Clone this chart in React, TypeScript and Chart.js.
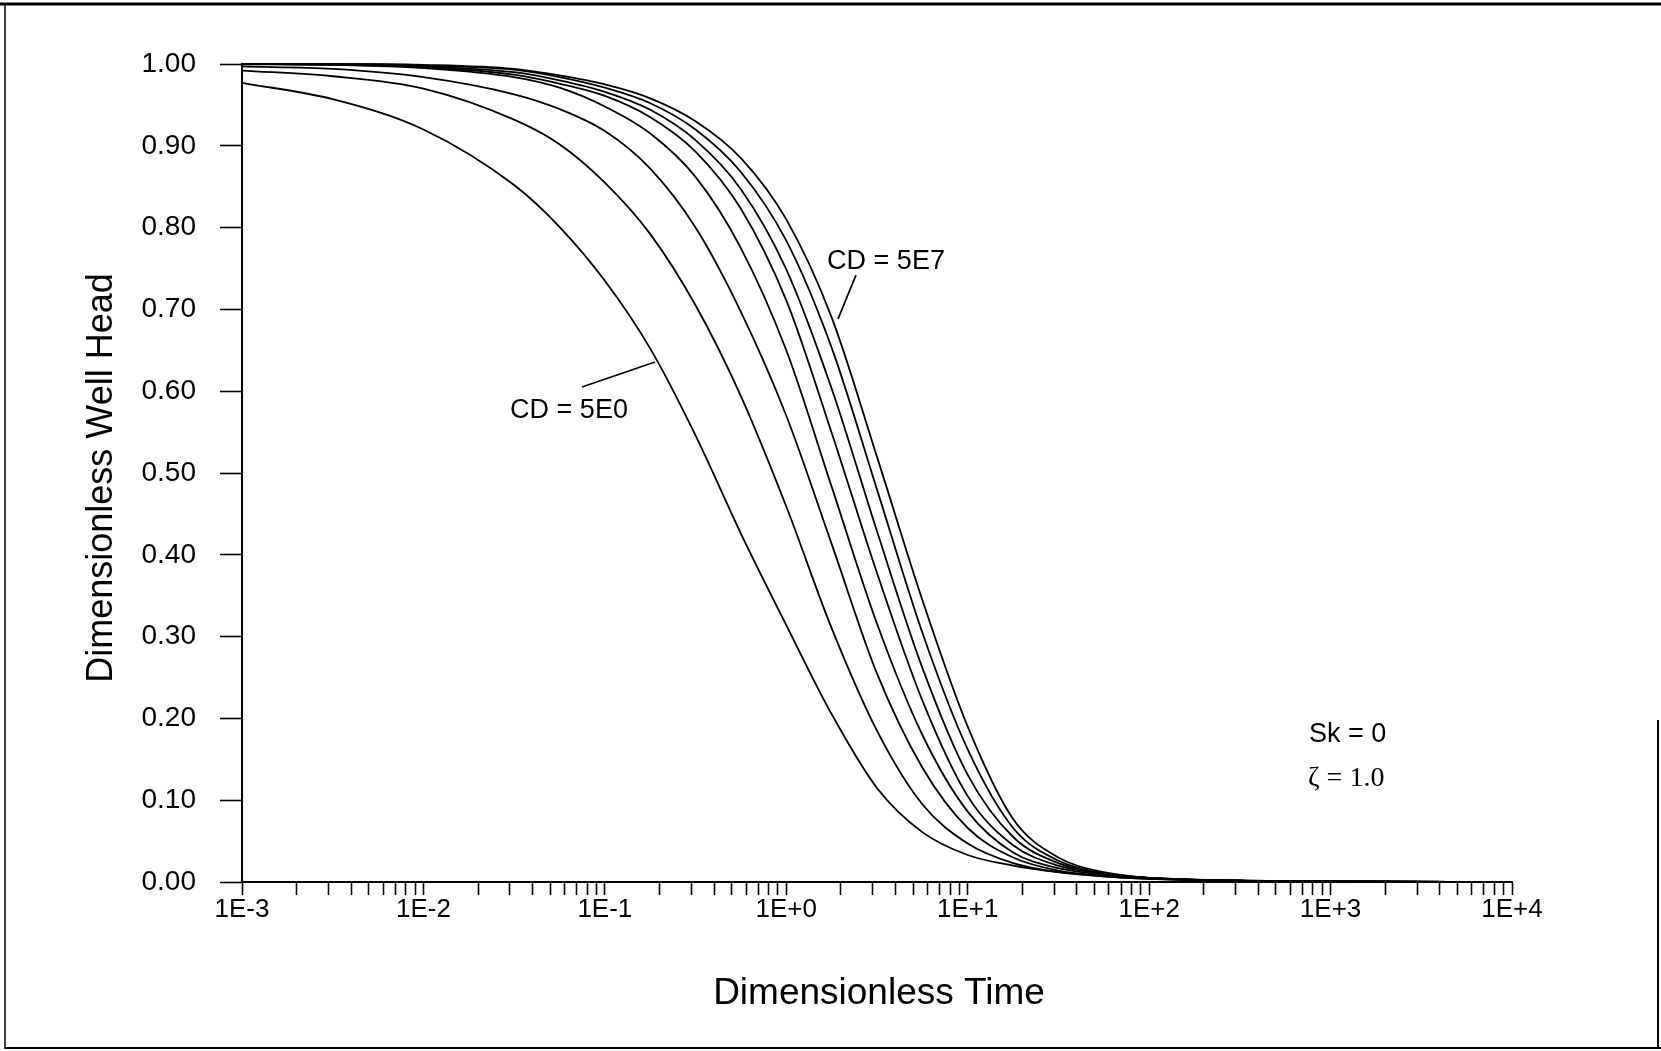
import React, { useEffect, useRef } from 'react';
import { Chart, registerables } from 'chart.js';

Chart.register(...registerables);

// ---- data ----
const timeValues = [0.001, 0.00316, 0.01, 0.0316, 0.0562, 0.1, 0.178, 0.316, 0.562, 1, 1.78, 3.16, 5.62, 10, 17.8, 31.6, 56.2, 100, 316, 1000, 10000];

const cd5e0 = [0.977, 0.957, 0.920, 0.852, 0.801, 0.735, 0.652, 0.546, 0.426, 0.314, 0.205, 0.115, 0.061, 0.033, 0.020, 0.012, 0.007, 0.004, 0.0015, 0.0006, 0.0001];
const cd5e1 = [0.992, 0.985, 0.970, 0.932, 0.902, 0.855, 0.792, 0.705, 0.594, 0.459, 0.310, 0.185, 0.095, 0.047, 0.023, 0.012, 0.007, 0.004, 0.0015, 0.0006, 0.0001];
const cd5e2 = [0.997, 0.994, 0.984, 0.963, 0.945, 0.918, 0.872, 0.800, 0.697, 0.570, 0.413, 0.255, 0.140, 0.066, 0.030, 0.014, 0.008, 0.0045, 0.0016, 0.0006, 0.0001];
const cd5e3 = [0.9995, 0.999, 0.995, 0.984, 0.971, 0.948, 0.915, 0.862, 0.775, 0.650, 0.483, 0.316, 0.180, 0.086, 0.036, 0.017, 0.009, 0.005, 0.0017, 0.0006, 0.0001];
const cd5e4 = [1.0, 0.999, 0.996, 0.987, 0.976, 0.961, 0.935, 0.893, 0.823, 0.711, 0.549, 0.378, 0.222, 0.105, 0.045, 0.020, 0.010, 0.005, 0.0017, 0.0006, 0.0001];
const cd5e5 = [1.0, 0.9995, 0.997, 0.990, 0.980, 0.966, 0.944, 0.907, 0.847, 0.749, 0.603, 0.429, 0.262, 0.131, 0.055, 0.023, 0.010, 0.005, 0.0017, 0.0006, 0.0001];
const cd5e6 = [1.0, 1.0, 0.998, 0.993, 0.984, 0.971, 0.952, 0.920, 0.868, 0.784, 0.653, 0.480, 0.305, 0.162, 0.066, 0.026, 0.011, 0.005, 0.0017, 0.0006, 0.0001];
const cd5e7 = [1.0, 1.0, 0.999, 0.994, 0.986, 0.975, 0.958, 0.930, 0.885, 0.810, 0.690, 0.520, 0.345, 0.190, 0.077, 0.030, 0.012, 0.005, 0.0017, 0.0006, 0.0001];

const seriesNames = ['CD = 5E0', 'CD = 5E1', 'CD = 5E2', 'CD = 5E3', 'CD = 5E4', 'CD = 5E5', 'CD = 5E6', 'CD = 5E7'];
const seriesValues = [cd5e0, cd5e1, cd5e2, cd5e3, cd5e4, cd5e5, cd5e6, cd5e7];

const decadeValues = [0.001, 0.01, 0.1, 1, 10, 100, 1000, 10000];
const decadeLabels = ['1E-3', '1E-2', '1E-1', '1E+0', '1E+1', '1E+2', '1E+3', '1E+4'];

const xTitle = 'Dimensionless Time';
const yTitle = 'Dimensionless Well Head';
const noteSk = 'Sk = 0';
const noteZeta = '\u03B6 = 1.0';

// ---- layout ----
const W = 1661;
const H = 1051;
const AREA_LEFT = 242;
const AREA_RIGHT = 1512;
const AREA_TOP = 64;
const AREA_BOTTOM = 882;
const SANS = '"Liberation Sans", Arial, Helvetica, sans-serif';
const SERIF = '"Liberation Serif", "Times New Roman", serif';

const minorTicks: number[] = [];
decadeValues.forEach((d, i) => {
  if (i < decadeValues.length - 1) {
    for (let k = 1; k < 10; k++) minorTicks.push(d * k);
  } else {
    minorTicks.push(d);
  }
});

const decorPlugin = {
  id: 'decor',
  afterDraw(chart: any) {
    const ctx = chart.ctx as CanvasRenderingContext2D;
    ctx.save();
    ctx.fillStyle = '#000';
    ctx.strokeStyle = '#000';
    ctx.lineCap = 'butt';

    // page frame (scanned border)
    ctx.lineWidth = 3;
    ctx.beginPath(); ctx.moveTo(0, 4); ctx.lineTo(W, 4); ctx.stroke();
    ctx.lineWidth = 1.5;
    ctx.beginPath(); ctx.moveTo(5, 4); ctx.lineTo(5, H - 2); ctx.stroke();
    ctx.lineWidth = 2;
    ctx.beginPath(); ctx.moveTo(5, H - 3); ctx.lineTo(W, H - 3); ctx.stroke();
    ctx.beginPath(); ctx.moveTo(W - 3, 720); ctx.lineTo(W - 3, H - 3); ctx.stroke();

    // axis titles
    ctx.textAlign = 'center';
    ctx.textBaseline = 'alphabetic';
    ctx.font = `37px ${SANS}`;
    ctx.fillText(xTitle, (chart.chartArea.left + chart.chartArea.right) / 2 + 2, 1004);
    ctx.save();
    ctx.translate(112, 478);
    ctx.rotate(-Math.PI / 2);
    ctx.font = `36px ${SANS}`;
    ctx.fillText(yTitle, 0, 0);
    ctx.restore();

    // curve labels with pointers
    ctx.font = `27px ${SANS}`;
    ctx.textAlign = 'center';
    ctx.fillText(seriesNames[0], 569, 418);
    ctx.fillText(seriesNames[seriesNames.length - 1], 886, 269);
    ctx.lineWidth = 1.8;
    ctx.beginPath(); ctx.moveTo(582, 387); ctx.lineTo(655, 362); ctx.stroke();
    ctx.beginPath(); ctx.moveTo(856, 275); ctx.lineTo(838, 319); ctx.stroke();

    // notes
    ctx.textAlign = 'left';
    ctx.font = `27px ${SANS}`;
    ctx.fillText(noteSk, 1309, 742);
    ctx.font = `28px ${SERIF}`;
    ctx.fillText(noteZeta, 1308, 786);

    ctx.restore();
  },
};

export default function App() {
  const canvasRef = useRef<HTMLCanvasElement | null>(null);

  useEffect(() => {
    const canvas = canvasRef.current;
    if (!canvas) return;

    const datasets = seriesValues.map((vals, i) => ({
      label: seriesNames[i],
      data: timeValues.map((t, j) => ({ x: t, y: vals[j] })),
      borderColor: '#000',
      backgroundColor: '#000',
      borderWidth: 1.8,
      pointRadius: 0,
      fill: false,
      cubicInterpolationMode: 'monotone' as const,
      clip: false as const,
    }));

    const chart = new Chart(canvas, {
      type: 'line',
      data: { datasets },
      options: {
        responsive: false,
        animation: false,
        events: [],
        layout: { padding: { top: AREA_TOP, right: W - AREA_RIGHT, bottom: 0, left: 0 } },
        plugins: {
          legend: { display: false },
          tooltip: { enabled: false },
          title: { display: false },
        },
        scales: {
          x: {
            type: 'logarithmic',
            position: 'bottom',
            min: 0.001,
            max: 10000,
            afterBuildTicks: (scale: any) => {
              scale.ticks = minorTicks.map((v) => ({ value: v }));
            },
            afterFit: (scale: any) => {
              scale.height = H - AREA_BOTTOM;
            },
            grid: {
              display: true,
              drawOnChartArea: false,
              drawTicks: true,
              tickLength: 13,
              tickWidth: 1.6,
              tickColor: '#000',
              color: '#000',
            },
            border: { display: true, color: '#000', width: 2 },
            ticks: {
              autoSkip: false,
              maxRotation: 0,
              minRotation: 0,
              padding: -1,
              color: '#000',
              font: { family: SANS, size: 26 },
              callback: (value: any) => {
                const idx = decadeValues.findIndex((d) => Math.abs(Math.log10(d) - Math.log10(Number(value))) < 1e-9);
                return idx >= 0 ? decadeLabels[idx] : '';
              },
            },
          },
          y: {
            type: 'linear',
            min: 0,
            max: 1,
            afterFit: (scale: any) => {
              scale.width = AREA_LEFT;
            },
            grid: {
              display: true,
              drawOnChartArea: false,
              drawTicks: true,
              tickLength: 22,
              tickWidth: 1.6,
              tickColor: '#000',
              color: '#000',
            },
            border: { display: true, color: '#000', width: 2 },
            ticks: {
              stepSize: 0.1,
              padding: 24,
              color: '#000',
              font: { family: SANS, size: 28 },
              callback: (value: any) => Number(value).toFixed(2),
            },
          },
        },
      },
      plugins: [decorPlugin],
    });

    return () => {
      chart.destroy();
    };
  }, []);

  return (
    <div style={{ position: 'absolute', left: 0, top: 0, width: W, height: H, background: '#fff' }}>
      <canvas ref={canvasRef} width={W} height={H} style={{ display: 'block', width: W, height: H }} />
    </div>
  );
}
